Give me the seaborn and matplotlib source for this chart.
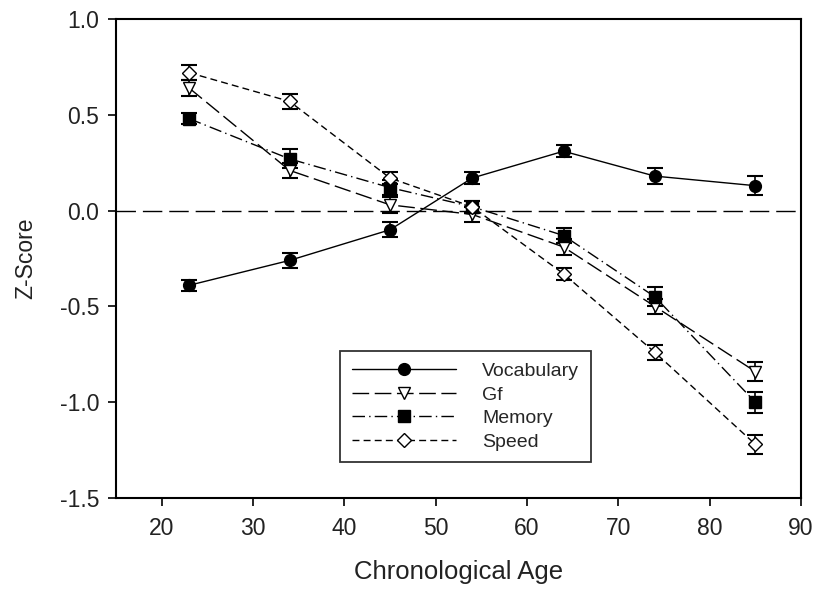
import matplotlib
matplotlib.use("Agg")
import matplotlib.pyplot as plt
import seaborn as sns
import pandas as pd

ages = [23, 34, 45, 54, 64, 74, 85]
vocabulary = [-0.39, -0.26, -0.10, 0.17, 0.31, 0.18, 0.13]
gf = [0.64, 0.21, 0.03, -0.02, -0.19, -0.50, -0.84]
memory = [0.48, 0.27, 0.12, 0.02, -0.13, -0.45, -1.00]
speed = [0.72, 0.57, 0.17, 0.02, -0.33, -0.74, -1.22]
vocabulary_err = [0.03, 0.04, 0.04, 0.03, 0.03, 0.04, 0.05]
gf_err = [0.04, 0.04, 0.04, 0.04, 0.04, 0.04, 0.05]
memory_err = [0.03, 0.05, 0.04, 0.03, 0.04, 0.05, 0.055]
speed_err = [0.04, 0.04, 0.03, 0.03, 0.03, 0.04, 0.05]
series_names = ["Vocabulary", "Gf", "Memory", "Speed"]
x_ticks = [20, 30, 40, 50, 60, 70, 80, 90]
y_ticks = [-1.5, -1.0, -0.5, 0.0, 0.5, 1.0]

sns.set_style("ticks")
plt.rcParams['font.family'] = ['Liberation Sans', 'DejaVu Sans']

fig = plt.figure(figsize=(8.2, 5.95), dpi=100)
ax = fig.add_axes([116/820, 1 - 498/595, (801-116)/820, (498-19)/595])

styles = {
    "Vocabulary": dict(marker="o", mfc="black", dashes=None),
    "Gf": dict(marker="v", mfc="white", dashes=(12, 4)),
    "Memory": dict(marker="s", mfc="black", dashes=(9, 3, 1, 3)),
    "Speed": dict(marker="D", mfc="white", dashes=(5, 3)),
}
values = dict(zip(series_names, [vocabulary, gf, memory, speed]))
errs = dict(zip(series_names, [vocabulary_err, gf_err, memory_err, speed_err]))

ax.axhline(0, color="black", lw=1.0, dashes=(14, 5), zorder=1)

for name in series_names:
    st = styles[name]
    df = pd.DataFrame({"age": ages, "z": values[name]})
    ax.errorbar(ages, values[name], yerr=errs[name], fmt="none", ecolor="black",
                elinewidth=1.2, capsize=6, capthick=1.5, zorder=2)
    kw = dict(color="black", lw=1.0, marker=st["marker"], markersize=8.5 if st["marker"] != "D" else 7.5,
              markerfacecolor=st["mfc"], markeredgecolor="black", markeredgewidth=1.0,
              label=name, ax=ax, zorder=3)
    if st["dashes"] is not None:
        kw["dashes"] = st["dashes"]
    sns.lineplot(data=df, x="age", y="z", **kw)

ax.set_xlim(15, 90)
ax.set_ylim(-1.5, 1.0)
ax.set_xticks(x_ticks)
ax.set_yticks(y_ticks)
ax.set_yticklabels([f"{v:.1f}" for v in y_ticks])
ax.tick_params(axis="both", labelsize=16.5, length=6, width=1.2, direction="out", color="black", labelcolor="#222222")
ax.tick_params(axis="y", pad=6)
ax.tick_params(axis="x", pad=8)
for s in ax.spines.values():
    s.set_linewidth(1.5)
    s.set_color("black")
ax.set_xlabel("Chronological Age", fontsize=18.5, labelpad=14, color="#222222")
ax.set_ylabel("Z-Score", fontsize=16.5, labelpad=16, color="#222222")

leg = ax.legend(loc="upper left", bbox_to_anchor=(0.327, 0.307), borderaxespad=0,
                fontsize=14, frameon=True, fancybox=False, handlelength=5.35, handletextpad=1.35,
                borderpad=0.6, labelspacing=0.3, markerfirst=True)
leg.get_frame().set_edgecolor("black")
leg.get_frame().set_linewidth(1.3)

fig.savefig("out.png", dpi=100)
